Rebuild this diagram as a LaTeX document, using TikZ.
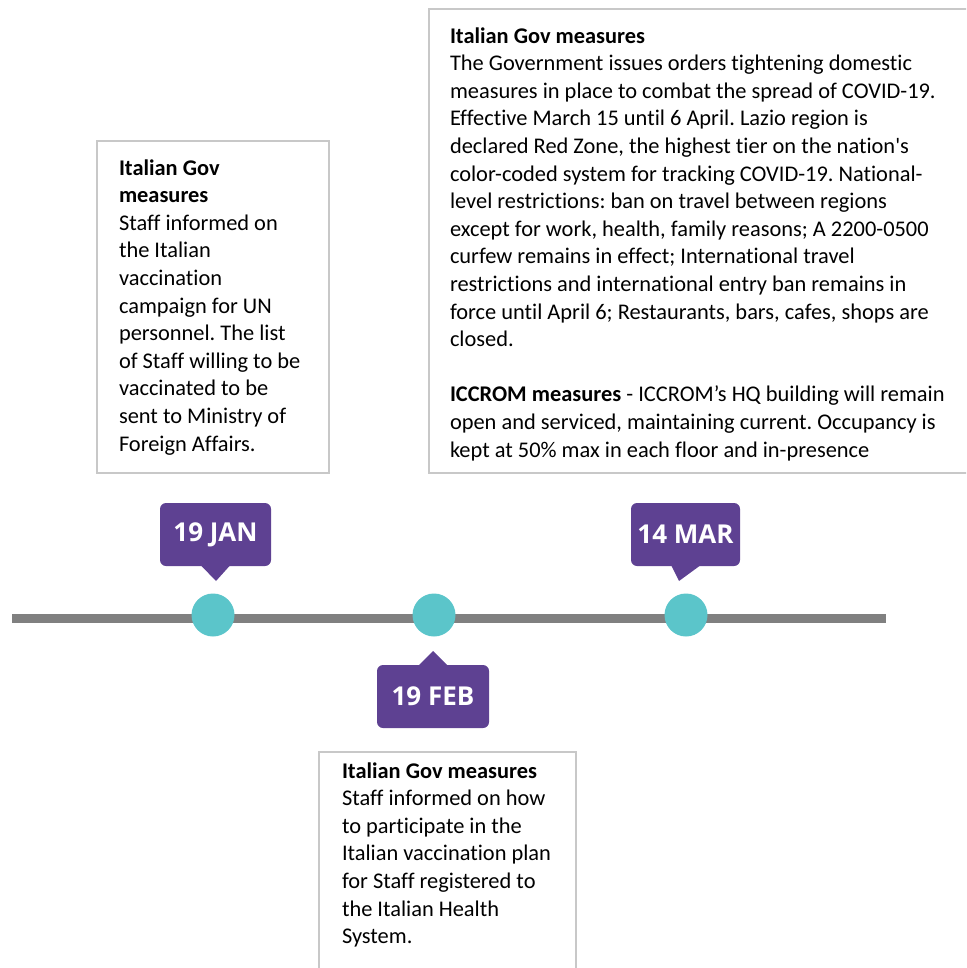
\documentclass[tikz,border=0pt]{standalone}
\usepackage{fontspec}
\setmainfont{Carlito}[Ligatures=NoCommon]
\newfontfamily\badgefont{Open Sans}
\frenchspacing
\tikzset{
every picture/.style={
line width=1pt
}}
\definecolor{datepurple}{HTML}{5E4192}
\definecolor{dotteal}{HTML}{5BC5CA}
\definecolor{axisgray}{HTML}{808080}
\definecolor{cardgray}{HTML}{C8C8C8}

\begin{document}
\begin{tikzpicture}[x=0.5pt, y=-0.5pt,
card/.style = {rectangle, draw=cardgray, line width=1pt, inner sep=0pt},
cardtext/.style = {anchor=north west, inner sep=0pt, align=left, font=\fontsize{11.2pt}{13.8pt}\selectfont},
badge/.style = {rectangle, rounded corners=3pt, fill=datepurple, text=white, minimum height=31.5pt, inner sep=0pt, font=\badgefont\bfseries\fontsize{13pt}{15pt}\selectfont},
dot/.style = {circle, fill=dotteal, minimum size=21.5pt, inner sep=0pt},
axis/.style = {draw=axisgray, line width=4.5pt}]
\clip (0,0) rectangle (966,968);

% timeline
\coordinate (tlstart) at (12,618);
\coordinate (tlend) at (886,618);
\draw[axis] (tlstart) -- (tlend);
\node[dot] at (213,615) (jandot) {};
\node[dot] at (434,615) (febdot) {};
\node[dot] at (686,615) (mardot) {};

% date badges
\node[badge, minimum width=55.5pt] at (215.5,534.5) (janbadge) {19 JAN};
\node[badge, minimum width=56pt] at (433,696.5) (febbadge) {19 FEB};
\node[badge, minimum width=54.5pt] at (685.5,534.5) (marbadge) {14 MAR};
\coordinate (jantip) at (216,581);
\coordinate (febtip) at (433,651);
\coordinate (martip) at (679,581);
\fill[datepurple] ([xshift=-7pt,yshift=0.5pt]janbadge.south) -- (jantip) -- ([xshift=7pt,yshift=0.5pt]janbadge.south) -- cycle;
\fill[datepurple] ([xshift=-7pt,yshift=-0.5pt]febbadge.north) -- (febtip) -- ([xshift=7pt,yshift=-0.5pt]febbadge.north) -- cycle;
\fill[datepurple] ([xshift=-7pt,yshift=0.5pt]marbadge.south) -- (martip) -- ([xshift=7pt,yshift=0.5pt]marbadge.south) -- cycle;

% text cards
\node[card, minimum width=116pt, minimum height=166pt] at (213,307) (jancard) {};
\node[card, minimum width=285.5pt, minimum height=232pt] at (714.5,241) (marcard) {};
\node[card, minimum width=128.5pt, minimum height=124pt] at (447.5,876) (febcard) {};
% \node[card, text width=110pt] at (213,307) (jancard) {...};

\node[cardtext] at (118,154.7) (jantext) {\strut\textbf{Italian Gov}\\ \textbf{measures}\\ Staff informed on\\ the Italian\\ vaccination\\ campaign for UN\\ personnel. The list\\ of Staff willing to be\\ vaccinated to be\\ sent to Ministry of\\ Foreign Affairs.};
\node[cardtext] at (449,22.7) (martext) {\strut\textbf{Italian Gov measures}\\
The Government issues orders tightening domestic\\
measures in place to combat the spread of COVID-19.\\
Effective March 15 until 6 April. Lazio region is\\
declared Red Zone, the highest tier on the nation\textquotesingle s\\
color-coded system for tracking COVID-19. National-\\
level restrictions: ban on travel between regions\\
except for work, health, family reasons; A 2200-0500\\
curfew remains in effect; International travel\\
restrictions and international entry ban remains in\\
force until April 6; Restaurants, bars, cafes, shops are\\
closed.\\
\mbox{}\\
\textbf{ICCROM measures} - ICCROM’s HQ building will remain\\
open and serviced, maintaining current. Occupancy is\\
kept at 50\% max in each floor and in-presence};
\node[cardtext] at (341,757.7) (febtext) {\strut\textbf{Italian Gov measures}\\ Staff informed on how\\ to participate in the\\ Italian vaccination plan\\ for Staff registered to\\ the Italian Health\\ System.};

\end{tikzpicture}
\end{document}
